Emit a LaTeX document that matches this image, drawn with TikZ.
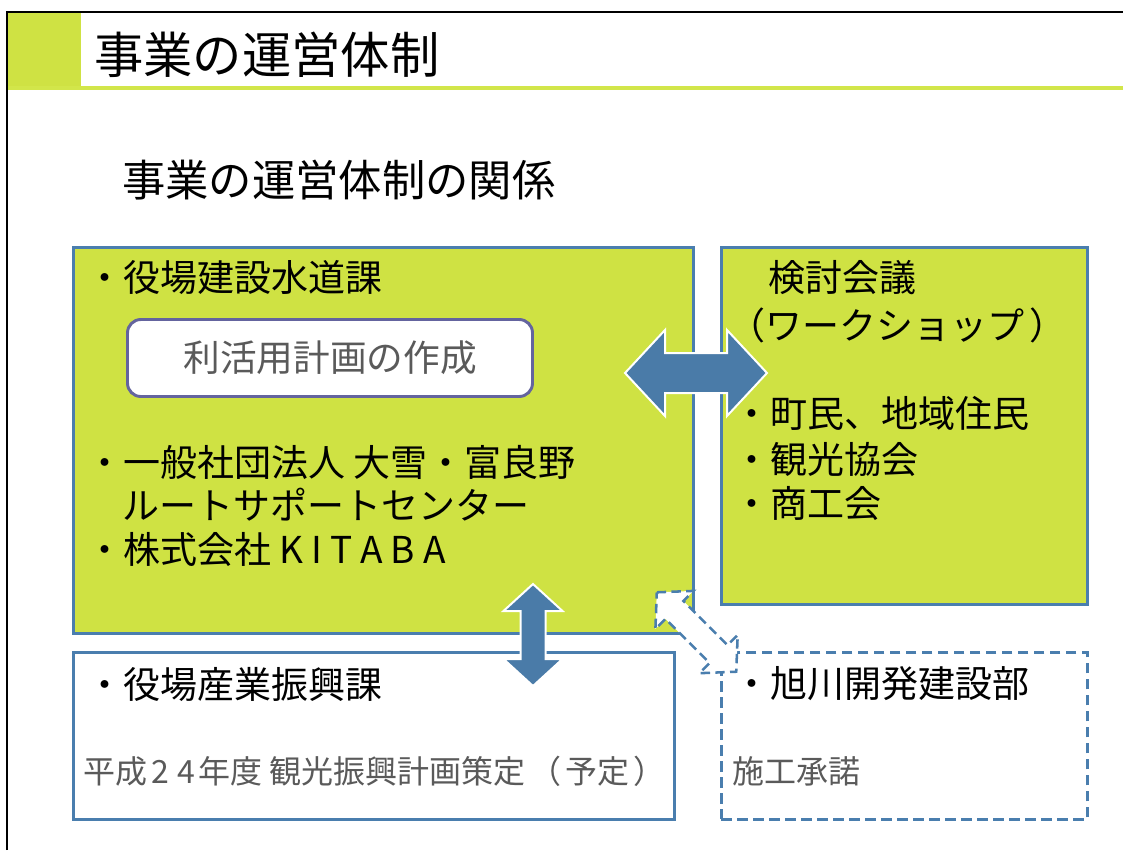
\documentclass[tikz,border=0pt]{standalone}
\usepackage{fontspec}
\setmainfont{Noto Sans CJK JP}
\definecolor{lime}{HTML}{CFE243}
\definecolor{limeline}{HTML}{D2E64A}
\definecolor{lineblue}{HTML}{4A7EAE}
\definecolor{arrowblue}{HTML}{4A7BA8}
\definecolor{rrpurple}{HTML}{64649E}
\definecolor{txtgray}{HTML}{5A5A5A}
\begin{document}
\begin{tikzpicture}[x=0.75pt,y=-0.75pt,
  greenbox/.style={draw=lineblue, line width=1.9pt, fill=lime, inner sep=0, anchor=north west},
  whitebox/.style={draw=lineblue, line width=1.9pt, fill=white, inner sep=0, anchor=north west},
  dashbox/.style={whitebox, dash pattern=on 8pt off 4pt},
  planbox/.style={draw=rrpurple, line width=2.2pt, fill=white, rounded corners=10pt, inner sep=0, text=txtgray, font=\fontsize{27.5}{30}\selectfont},
  txt/.style={anchor=west, inner sep=0, font=\fontsize{27.75}{30}\selectfont},
  graytxt/.style={anchor=west, inner sep=0, text=txtgray, font=\fontsize{24}{28}\selectfont},
  solidarrow/.style={fill=arrowblue, draw=white, line width=1.5pt, line join=miter},
  dasharrow/.style={fill=white, draw=lineblue, line width=1.9pt, dash pattern=on 7pt off 4pt}]
\useasboundingbox (0,0) rectangle (1123,850);
\fill[white] (0,0) rectangle (1123,850);
% title bar
\fill[lime] (7,12) rectangle (81,88);
\draw[limeline, line width=2.5pt] (7,88) -- (1123,88);
\draw[black, line width=1.6pt] (7,850) -- (7,12) -- (1123,12);
\node[anchor=west, inner sep=0, font=\fontsize{37}{40}\selectfont] (title) at (94,55) {事業の運営体制};
\node[anchor=west, inner sep=0, font=\fontsize{32.5}{36}\selectfont] (subtitle) at (122,180) {事業の運営体制の関係};
% boxes
\node[greenbox, minimum width=620*0.75pt, minimum height=386*0.75pt] (A) at (72,246) {};
\node[greenbox, minimum width=366*0.75pt, minimum height=357*0.75pt] (B) at (720,246) {};
\node[whitebox, minimum width=601*0.75pt, minimum height=167*0.75pt] (C) at (72,651) {};
\node[dashbox, minimum width=366*0.75pt, minimum height=167*0.75pt] (D) at (720,651) {};
\node[planbox, minimum width=405*0.75pt, minimum height=77*0.75pt] (plan) at (330,358) {利活用計画の作成};
% texts
\node[txt] (a1) at (86,278) {・役場建設水道課};
\node[txt] (a2) at (86,462) {・一般社団法人 大雪・富良野};
\node[txt] (a3) at (122,505) {ルートサポートセンター};
\node[txt] (a4) at (86,549) {・株式会社 K\kern6pt I\kern6pt T\kern6pt A\kern6pt B\kern6pt A};
\node[txt] (b1) at (768,278) {検討会議};
\node[txt] (b2) at (728,325) {（ワークショップ\kern4pt ）};
\node[txt] (b3) at (733,413) {・町民、地域住民};
\node[txt] (b4) at (733,459) {・観光協会};
\node[txt] (b5) at (733,503) {・商工会};
\node[txt] (c1) at (86,684) {・役場産業振興課};
\node[graytxt] (c2) at (83,771) {平成\kern3pt 2\kern6pt 4\kern3pt 年度 観光振興計画策定\kern3pt （\kern3pt 予定\kern3pt ）};
\node[txt] (d1) at (733,684) {・旭川開発建設部};
\node[graytxt] (d2) at (732,771) {施工承諾};
% arrows: A <-> B
\coordinate (hL) at (625,373);
\coordinate (hR) at (767,373);
\draw[solidarrow] (hL) -- (665,330) -- (665,353) -- (727,353) -- (727,330) -- (hR)
  -- (727,416) -- (727,393) -- (665,393) -- (665,416) -- cycle;
% A <-> C
\coordinate (vT) at (533,584);
\coordinate (vB) at (533,686);
\draw[solidarrow] (vT) -- (562.5,611) -- (545.5,611) -- (545.5,659) -- (562.5,659) -- (vB)
  -- (503.5,659) -- (520.5,659) -- (520.5,611) -- (503.5,611) -- cycle;
% A <-> D (dashed)
\coordinate (dT) at (656.8,592.3);
\coordinate (dB) at (736.2,671.7);
\draw[dasharrow] (dT) -- (693.5,590.9) -- (683.4,601.0) -- (727.5,645.1) -- (737.7,635.0) -- (dB)
  -- (699.5,673.2) -- (709.6,663.0) -- (665.5,618.9) -- (655.4,629.0) -- cycle;
\end{tikzpicture}
\end{document}
